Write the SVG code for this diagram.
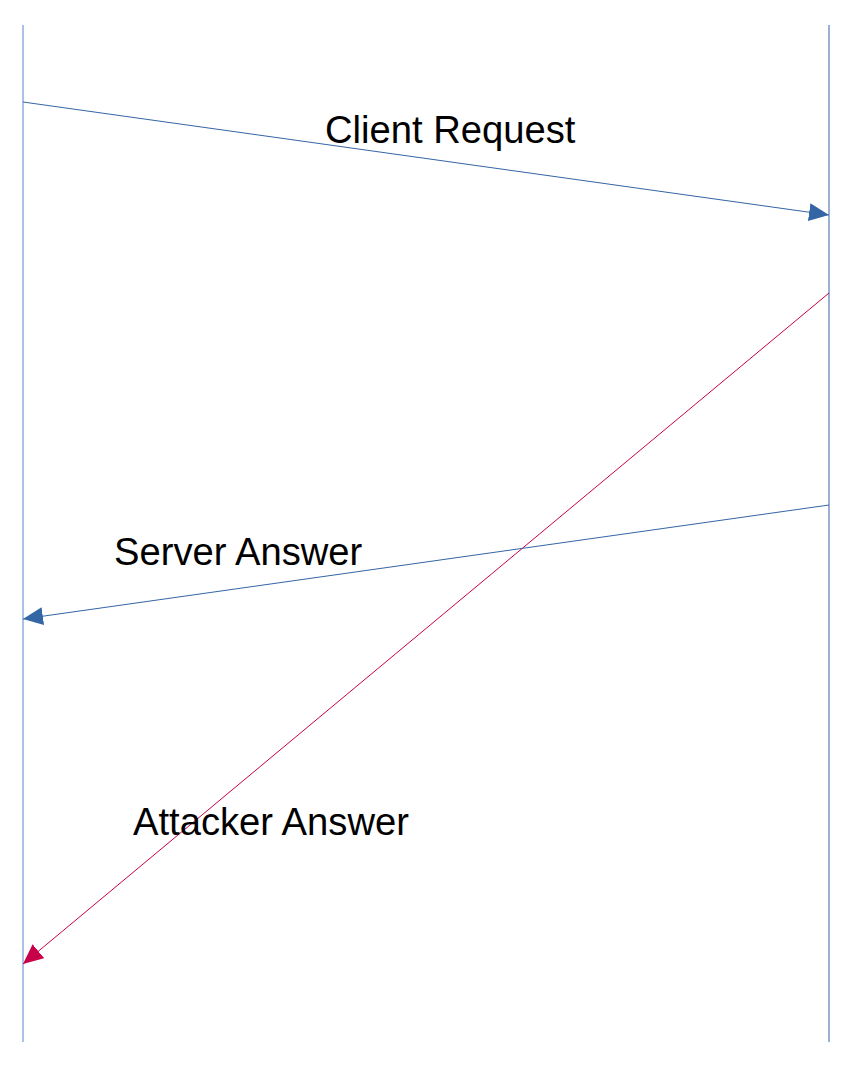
<svg xmlns="http://www.w3.org/2000/svg" width="864" height="1072" viewBox="0 0 864 1072">
<style>
.lbl{font-family:"Liberation Sans",Arial,sans-serif;font-size:38.2px;fill:#000}
.msg{fill:none;stroke:#3465a4;stroke-width:1}
.atk{fill:none;stroke:#c8004a;stroke-width:1}
</style>
<defs>
<marker id="ab" viewBox="0 0 20 18" refX="20" refY="9" markerWidth="20" markerHeight="18" markerUnits="userSpaceOnUse" orient="auto"><path d="M0,0 L20,9 L0,18 Z" fill="#3465a4"/></marker>
<marker id="ar" viewBox="0 0 20 18" refX="20" refY="9" markerWidth="20" markerHeight="18" markerUnits="userSpaceOnUse" orient="auto"><path d="M0,0 L20,9 L0,18 Z" fill="#c8004a"/></marker>
</defs>
<rect width="864" height="1072" fill="#fff"/>
<g id="client"><line x1="23" y1="25" x2="23" y2="1042" stroke="#7f9fd8" stroke-width="1.3"/></g>
<g id="server"><line x1="829" y1="25" x2="829" y2="1042" stroke="#3465a4" stroke-width="1"/></g>
<g id="connectors">
<line class="msg" x1="23" y1="102" x2="829" y2="215" marker-end="url(#ab)"/>
<line class="atk" x1="829" y1="293" x2="23" y2="964" marker-end="url(#ar)"/>
<line class="msg" x1="829" y1="505" x2="23" y2="619" marker-end="url(#ab)"/>
</g>
<g id="labels">
<text class="lbl" x="325" y="143">Client Request</text>
<text class="lbl" x="114" y="565">Server Answer</text>
<text class="lbl" x="133" y="835">Attacker Answer</text>
</g>
</svg>
